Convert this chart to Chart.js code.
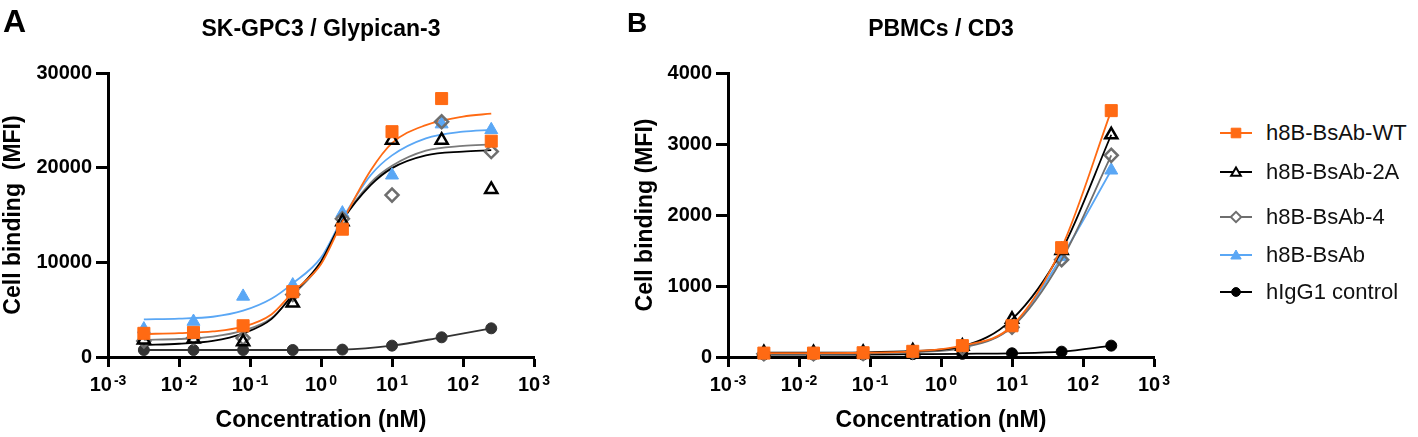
<!DOCTYPE html>
<html>
<head>
<meta charset="utf-8">
<script src="https://cdn.jsdelivr.net/npm/chart.js@4.4.0/dist/chart.umd.min.js"></script>
<style>
  body { margin: 0; background: #fff; }
  #wrap { position: relative; width: 1418px; height: 437px; font-family: "Liberation Sans", Arial, sans-serif; }
  #cA { position: absolute; left: 0; top: 0; }
  #cB { position: absolute; left: 560px; top: 0; }
  #legend { position: absolute; left: 1220px; top: 0; }
  .item { position: absolute; left: 0; height: 26px; display: flex; align-items: center; white-space: nowrap; font-size: 22px; color: #111; }
  .item canvas { margin-right: 14px; }
</style>
</head>
<body>
<div id="wrap">
  <canvas id="cA" width="560" height="437"></canvas>
  <canvas id="cB" width="640" height="437"></canvas>
  <div id="legend"></div>
</div>
<script>
// concentrations (nM), 5-fold dilutions from 250
var conc = [0.0032, 0.016, 0.08, 0.4, 2, 10, 50, 250];
var names = ['h8B-BsAb-WT', 'h8B-BsAb-2A', 'h8B-BsAb-4', 'h8B-BsAb', 'hIgG1 control'];
var xTicks = [0.001, 0.01, 0.1, 1, 10, 100, 1000];
var yTicksA = [0, 10000, 20000, 30000];
var yTicksB = [0, 1000, 2000, 3000, 4000];

// panel A, SK-GPC3 - measured MFI
var wtA = [2500, 2600, 3300, 6900, 13500, 23800, 27300, 22800];
var a2A = [1800, 1900, 1600, 5700, 14300, 22900, 22900, 17700];
var a4A = [1700, 2000, 2000, 6600, 14600, 17100, 24850, 21700];
var bsA = [2950, 3750, 6400, 7600, 15200, 19200, 24600, 24000];
var igA = [740, 740, 740, 740, 780, 1200, 2080, 3030];

// panel A fitted curves
var fitX = [0.0032, 0.01, 0.03, 0.08, 0.2, 0.4, 1, 2, 5, 10, 30, 100, 250];
var wtFitA = [2430, 2520, 2700, 3200, 4500, 6830, 9800, 14300, 19700, 22600, 24500, 25400, 25700];
var a2FitA = [1270, 1400, 1700, 2500, 4000, 6600, 10100, 14400, 18150, 19950, 21300, 21700, 21850];
var a4FitA = [1800, 1900, 2150, 2780, 4100, 6500, 9900, 14400, 18400, 20200, 21800, 22300, 22450];
var bsFitA = [3980, 4050, 4250, 4890, 6150, 7780, 10500, 14600, 19200, 21300, 23100, 23800, 24000];

// panel B, PBMCs - measured MFI
var wtB = [55, 55, 60, 80, 160, 440, 1540, 3470];
var a2B = [60, 60, 65, 85, 150, 530, 1500, 3130];
var a4B = [45, 45, 50, 70, 130, 420, 1370, 2840];
var bsB = [50, 50, 55, 75, 140, 430, 1410, 2630];
var igB = [35, 35, 35, 40, 45, 52, 75, 160];

var FONT = '"Liberation Sans", Arial, sans-serif';

var styles = [
  { color: '#FF6A13', fill: '#FF6A13', shape: 'rect', r: 8.5, bw: 1 },
  { color: '#000000', fill: 'rgba(0,0,0,0)', shape: 'triangle', r: 7, bw: 2.5 },
  { color: '#6E6E6E', fill: 'rgba(0,0,0,0)', shape: 'rectRot', r: 6.5, bw: 2.5 },
  { color: '#5AA7F5', fill: '#5AA7F5', shape: 'triangle', r: 7.5, bw: 1 },
  { color: '#000000', fill: '#000000', shape: 'circle', r: 5.5, bw: 1 }
];

function pts(xs, ys) {
  return xs.map(function (x, i) { return { x: x, y: ys[i] }; });
}

function pointSet(i, ys, color, line) {
  var s = styles[i];
  return {
    label: names[i],
    data: pts(conc, ys),
    showLine: !!line,
    cubicInterpolationMode: 'monotone',
    borderColor: color || s.color,
    borderWidth: 1.8,
    pointStyle: s.shape,
    pointRadius: s.r,
    pointBorderWidth: s.bw,
    pointBorderColor: color || s.color,
    pointBackgroundColor: s.fill === s.color && color ? color : s.fill,
    clip: false,
    order: 0
  };
}

function curveSet(i, ys) {
  return {
    label: names[i] + ' fit',
    data: pts(fitX, ys),
    showLine: true,
    cubicInterpolationMode: 'monotone',
    borderColor: styles[i].color === '#6E6E6E' ? '#7A7A7A' : styles[i].color,
    borderWidth: 1.8,
    pointRadius: 0,
    clip: false,
    order: 1
  };
}

// "10" with a raised exponent under each x tick
var powerLabels = {
  id: 'powerLabels',
  afterDraw: function (chart) {
    var s = chart.scales.x, ctx = chart.ctx;
    ctx.save();
    ctx.fillStyle = '#000';
    ctx.textAlign = 'left';
    ctx.textBaseline = 'alphabetic';
    s.ticks.forEach(function (t) {
      var px = s.getPixelForValue(t.value);
      var e = String(Math.round(Math.log10(t.value)));
      ctx.font = 'bold 20px ' + FONT;
      var w1 = ctx.measureText('10').width;
      ctx.font = 'bold 14px ' + FONT;
      var w2 = ctx.measureText(e).width;
      var x0 = px - (w1 + 2 + w2) / 2;
      var base = s.top + 34;
      ctx.font = 'bold 20px ' + FONT;
      ctx.fillText('10', x0, base);
      ctx.font = 'bold 14px ' + FONT;
      ctx.fillText(e, x0 + w1 + 2, base - 6);
    });
    ctx.restore();
  }
};

var panelLetter = {
  id: 'panelLetter',
  afterDraw: function (chart, args, opts) {
    var ctx = chart.ctx;
    ctx.save();
    ctx.fillStyle = '#000';
    ctx.font = 'bold ' + opts.size + 'px ' + FONT;
    ctx.textBaseline = 'alphabetic';
    ctx.fillText(opts.text, opts.x, opts.y);
    ctx.restore();
  }
};

function makeOptions(title, letter, yMax, yTicks, yWidth, yTitle, yTitlePad, padRight) {
  return {
    responsive: false,
    animation: false,
    devicePixelRatio: 1,
    layout: { padding: { left: 0, right: padRight, top: 0, bottom: 0 } },
    plugins: {
      legend: { display: false },
      tooltip: { enabled: false },
      title: {
        display: true, text: title, color: '#000', fullSize: false,
        font: { family: FONT, size: 23, weight: 'bold' },
        padding: { top: 15.5, bottom: 29.9 }
      },
      panelLetter: letter
    },
    scales: {
      x: {
        type: 'logarithmic', min: 0.001, max: 1000,
        afterBuildTicks: function (s) { s.ticks = xTicks.map(function (v) { return { value: v }; }); },
        afterFit: function (s) { s.height = 80; },
        ticks: { display: false },
        grid: { display: true, drawOnChartArea: false, drawTicks: true, tickLength: 10, tickWidth: 3, tickColor: '#000' },
        border: { display: true, color: '#000', width: 3 },
        title: {
          display: true, text: 'Concentration (nM)', color: '#000',
          font: { family: FONT, size: 23, weight: 'bold' },
          padding: { top: 0, bottom: 3 }
        }
      },
      y: {
        type: 'linear', min: 0, max: yMax,
        afterBuildTicks: function (s) { s.ticks = yTicks.map(function (v) { return { value: v }; }); },
        afterFit: function (s) { s.width = yWidth; },
        ticks: {
          color: '#000', padding: 4, font: { family: FONT, size: 20, weight: 'bold' },
          callback: function (v) { return String(v); }
        },
        grid: { display: true, drawOnChartArea: false, drawTicks: true, tickLength: 12, tickWidth: 3, tickColor: '#000' },
        border: { display: true, color: '#000', width: 3 },
        title: {
          display: true, text: yTitle, color: '#000',
          font: { family: FONT, size: 23, weight: 'bold' },
          padding: { top: yTitlePad, bottom: 0 }
        }
      }
    }
  };
}

new Chart(document.getElementById('cA'), {
  type: 'scatter',
  data: {
    datasets: [
      pointSet(0, wtA),
      pointSet(1, a2A),
      pointSet(2, a4A),
      pointSet(3, bsA),
      pointSet(4, igA, '#333333', true),
      curveSet(0, wtFitA),
      curveSet(1, a2FitA),
      curveSet(2, a4FitA),
      curveSet(3, bsFitA)
    ]
  },
  options: makeOptions('SK-GPC3 / Glypican-3', { text: 'A', size: 32, x: 3, y: 32 },
    30000, yTicksA, 108, 'Cell binding  (MFI)', 0, 26),
  plugins: [powerLabels, panelLetter]
});

new Chart(document.getElementById('cB'), {
  type: 'scatter',
  data: {
    datasets: [
      pointSet(0, wtB, null, true),
      pointSet(1, a2B, null, true),
      pointSet(2, a4B, null, true),
      pointSet(3, bsB, null, true),
      pointSet(4, igB, null, true)
    ]
  },
  options: makeOptions('PBMCs / CD3', { text: 'B', size: 28, x: 67, y: 32 },
    4000, yTicksB, 168, 'Cell binding (MFI)', 72, 46),
  plugins: [powerLabels, panelLetter]
});

// legend shared by both panels
var legendY = [133, 172, 217, 255, 292];
var legend = document.getElementById('legend');
names.forEach(function (n, i) {
  var s = styles[i];
  var div = document.createElement('div');
  div.className = 'item';
  div.style.top = (legendY[i] - 13) + 'px';
  var c = document.createElement('canvas');
  c.width = 32; c.height = 18;
  var ctx = c.getContext('2d');
  ctx.strokeStyle = s.color;
  ctx.lineWidth = 2;
  ctx.beginPath(); ctx.moveTo(0, 9); ctx.lineTo(32, 9); ctx.stroke();
  ctx.fillStyle = s.fill === 'rgba(0,0,0,0)' ? '#fff' : s.fill;
  ctx.strokeStyle = s.color;
  ctx.lineWidth = s.bw === 1 ? 1 : 2;
  Chart.helpers.drawPoint(ctx, { pointStyle: s.shape, radius: s.r * 0.8, borderWidth: ctx.lineWidth, rotation: 0 }, 16, s.shape === 'triangle' ? 10 : 9);
  div.appendChild(c);
  var span = document.createElement('span');
  span.textContent = n;
  div.appendChild(span);
  legend.appendChild(div);
});
</script>
</body>
</html>
